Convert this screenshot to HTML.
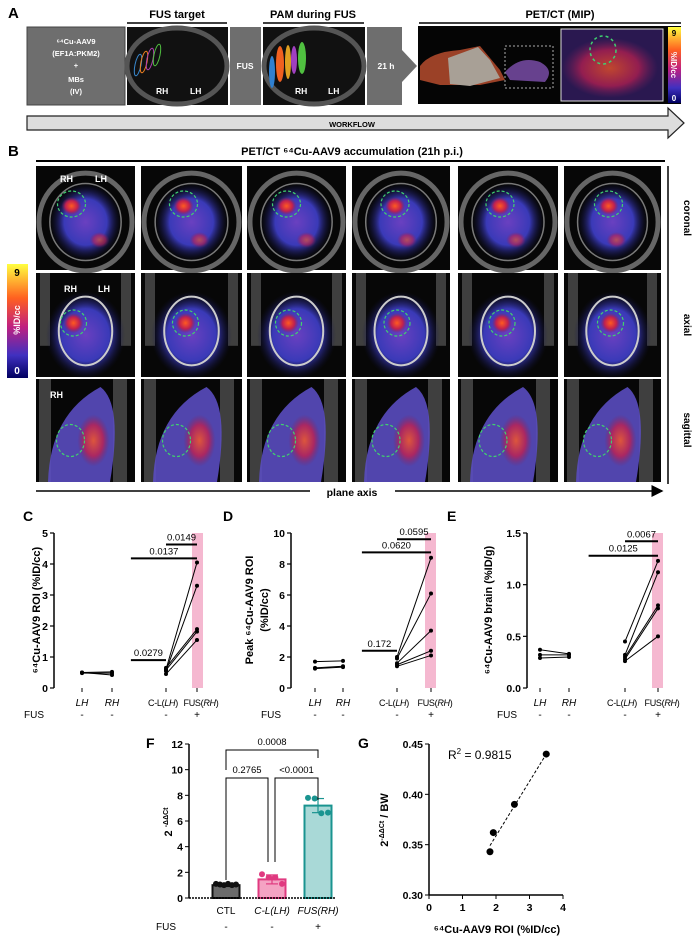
<!DOCTYPE html>
<html><head><meta charset="utf-8"><style>
body{margin:0;background:#fff}
svg{display:block;font-family:"Liberation Sans",Arial,sans-serif}
</style></head><body>
<svg id="s" width="699" height="942" viewBox="0 0 699 942">
<defs>
<radialGradient id="blob" cx="50%" cy="50%" r="50%"><stop offset="0" stop-color="#6a40c0"/><stop offset="0.6" stop-color="#3a3ab8"/><stop offset="1" stop-color="#101040" stop-opacity="0"/></radialGradient>
<radialGradient id="hot" cx="50%" cy="50%" r="50%"><stop offset="0" stop-color="#ff5a20"/><stop offset="0.6" stop-color="#c02050"/><stop offset="1" stop-color="#802060" stop-opacity="0"/></radialGradient>
<linearGradient id="cbar" x1="0" y1="0" x2="0" y2="1"><stop offset="0" stop-color="#ffff40"/><stop offset="0.3" stop-color="#ff6020"/><stop offset="0.55" stop-color="#c02080"/><stop offset="0.8" stop-color="#4030c0"/><stop offset="1" stop-color="#000060"/></linearGradient>
<marker id="ah" markerWidth="8" markerHeight="8" refX="7" refY="4" orient="auto"><path d="M0,0 L8,4 L0,8 z" fill="#000"/></marker>
</defs>

<!-- Panel A -->
<g>
<text x="8" y="18" font-size="15" font-weight="bold">A</text>
<text x="177" y="18" font-size="11" font-weight="bold" text-anchor="middle">FUS target</text>
<line x1="127" y1="23" x2="227" y2="23" stroke="#000" stroke-width="1.5"/>
<text x="313" y="18" font-size="11" font-weight="bold" text-anchor="middle">PAM during FUS</text>
<line x1="263" y1="23" x2="364" y2="23" stroke="#000" stroke-width="1.5"/>
<text x="560" y="18" font-size="11" font-weight="bold" text-anchor="middle">PET/CT (MIP)</text>
<line x1="419" y1="23" x2="681" y2="23" stroke="#000" stroke-width="1.5"/>
<rect x="27" y="27" width="98" height="78" fill="#6e6e6e" stroke="#444"/>
<g fill="#fff" font-size="7.5" font-weight="bold" text-anchor="middle">
<text x="76" y="44">⁶⁴Cu-AAV9</text><text x="76" y="56">(EF1A:PKM2)</text><text x="76" y="68">+</text><text x="76" y="82">MBs</text><text x="76" y="94">(IV)</text></g>
<rect x="127" y="27" width="101" height="78" fill="#111"/>
<ellipse cx="177" cy="66" rx="50" ry="38" fill="none" stroke="#555" stroke-width="5"/>
<ellipse cx="138" cy="65" rx="3" ry="11" fill="none" stroke="#3a8ad0" transform="rotate(12 138 65)"/>
<ellipse cx="144" cy="62" rx="3" ry="11" fill="none" stroke="#f08020" transform="rotate(12 144 62)"/>
<ellipse cx="150" cy="59" rx="3" ry="11" fill="none" stroke="#b040b0" transform="rotate(12 150 59)"/>
<ellipse cx="157" cy="55" rx="3" ry="11" fill="none" stroke="#50c040" transform="rotate(12 157 55)"/>
<text x="156" y="94" fill="#fff" font-size="8.5" font-weight="bold">RH</text><text x="190" y="94" fill="#fff" font-size="8.5" font-weight="bold">LH</text>
<rect x="230" y="27" width="31" height="78" fill="#6e6e6e"/>
<text x="245" y="69" fill="#fff" font-size="8.5" font-weight="bold" text-anchor="middle">FUS</text>
<rect x="263" y="27" width="102" height="78" fill="#111"/>
<ellipse cx="314" cy="66" rx="50" ry="38" fill="none" stroke="#555" stroke-width="5"/>
<ellipse cx="272" cy="72" rx="3" ry="16" fill="#3080d0"/><ellipse cx="280" cy="64" rx="4" ry="18" fill="#f06020"/>
<ellipse cx="288" cy="62" rx="3" ry="17" fill="#e0a020"/><ellipse cx="294" cy="60" rx="3" ry="14" fill="#a040c0"/><ellipse cx="302" cy="58" rx="4" ry="16" fill="#50c040"/>
<text x="295" y="94" fill="#fff" font-size="8.5" font-weight="bold">RH</text><text x="328" y="94" fill="#fff" font-size="8.5" font-weight="bold">LH</text>
<path d="M367,27 H402 V50 L417,66 L402,82 V105 H367 Z" fill="#6e6e6e"/>
<text x="386" y="69" fill="#fff" font-size="8.5" font-weight="bold" text-anchor="middle">21 h</text>
<rect x="418" y="26" width="263" height="78" fill="#050505"/>
<path d="M420,66 Q430,52 460,50 L480,46 L500,70 L505,80 L480,85 L440,85 L420,80 Z" fill="#c05030" opacity="0.8"/>
<path d="M448,58 L478,47 L490,60 L500,78 L470,86 L450,84 Z" fill="#a8a096"/>
<path d="M505,72 Q520,55 540,62 Q555,70 545,82 L510,80 Z" fill="#8050b0" opacity="0.8"/>
<rect x="505" y="46" width="48" height="42" fill="none" stroke="#aaa" stroke-dasharray="2,2"/>
<rect x="561" y="29" width="102" height="72" fill="#2a1850" stroke="#ddd"/>
<ellipse cx="610" cy="68" rx="48" ry="30" fill="url(#hot)" opacity="0.7"/>
<ellipse cx="603" cy="50" rx="13" ry="14" fill="none" stroke="#40d070" stroke-dasharray="3,3" stroke-width="1.5"/>
<rect x="668" y="27" width="13" height="76" fill="url(#cbar)"/>
<text x="674" y="36" font-size="8" font-weight="bold" text-anchor="middle">9</text>
<text x="674" y="101" font-size="8" font-weight="bold" fill="#fff" text-anchor="middle">0</text>
<text transform="translate(671,65) rotate(90)" font-size="8" font-weight="bold" fill="#fff" text-anchor="middle">%ID/cc</text>
<path d="M27,116 H668 V108 L684,123 L668,138 V130 H27 Z" fill="#ddd" stroke="#222" stroke-width="1.2"/>
<text x="352" y="127" font-size="7.5" font-weight="bold" text-anchor="middle">WORKFLOW</text>
</g>

<!-- Panel B -->
<g id="pb">
<text x="8" y="156" font-size="15" font-weight="bold">B</text>
<text x="352" y="155" font-size="11" font-weight="bold" text-anchor="middle">PET/CT ⁶⁴Cu-AAV9 accumulation (21h p.i.)</text>
<line x1="36" y1="161" x2="665" y2="161" stroke="#000" stroke-width="2"/>
<line x1="668" y1="166" x2="668" y2="484" stroke="#000" stroke-width="1.5"/>
<text transform="translate(684,218) rotate(90)" font-size="10" font-weight="bold" text-anchor="middle">coronal</text>
<text transform="translate(684,325) rotate(90)" font-size="10" font-weight="bold" text-anchor="middle">axial</text>
<text transform="translate(684,430) rotate(90)" font-size="10" font-weight="bold" text-anchor="middle">sagittal</text>
<rect x="7" y="264" width="21" height="114" fill="url(#cbar)"/>
<text x="17" y="276" font-size="10" font-weight="bold" text-anchor="middle">9</text>
<text x="17" y="374" font-size="10" font-weight="bold" fill="#fff" text-anchor="middle">0</text>
<text transform="translate(20,320) rotate(-90)" font-size="9" font-weight="bold" fill="#fff" text-anchor="middle">%ID/cc</text>
<line x1="36" y1="491" x2="310" y2="491" stroke="#000" stroke-width="1.5"/>
<line x1="395" y1="491" x2="662" y2="491" stroke="#000" stroke-width="1.5" marker-end="url(#ah)"/>
<text x="352" y="496" font-size="10.5" font-weight="bold" text-anchor="middle">plane axis</text>
</g>

<g id="charts"></g>
</svg>
<script>
const NS="http://www.w3.org/2000/svg";
const svg=document.getElementById('s');
function mk(tag,attrs,parent,txt){const e=document.createElementNS(NS,tag);for(const k in attrs)e.setAttribute(k,attrs[k]);if(txt!==undefined)e.textContent=txt;(parent||svg).appendChild(e);return e;}

// Panel B image grid
const pb=document.getElementById('pb');
const colX=[36,141,247,352,458,564];const colW=[99,101,99,98,100,97];
const rowYs=[166,273,379],rowHs=[104,104,103];
const hotX=[-14,-8,-10,-6,-8,-4];
for(let r=0;r<3;r++)for(let c=0;c<6;c++){
 const x=colX[c],y=rowYs[r],w=colW[c],h=rowHs[r],cx=x+w/2,cy=y+h/2;
 const g=mk('g',{},pb);
 
 
 mk('rect',{x:x,y:y,width:w,height:h,fill:'#070707'},g);
 if(r===0){
  mk('ellipse',{cx:cx,cy:cy+4,rx:w*0.47,ry:h*0.47,fill:'none',stroke:'#666',"stroke-width":5},g);
  mk('ellipse',{cx:cx,cy:cy+4,rx:w*0.36,ry:h*0.37,fill:'url(#blob)'},g);
  mk('ellipse',{cx:cx,cy:cy+4,rx:w*0.36,ry:h*0.37,fill:'none',stroke:'#aaa',"stroke-width":1.5,opacity:0.7},g);
  mk('ellipse',{cx:cx+hotX[c],cy:cy-12,rx:10,ry:9,fill:'url(#hot)'},g);
  mk('ellipse',{cx:cx-hotX[c],cy:cy+22,rx:10,ry:8,fill:'url(#hot)',opacity:0.6},g);
  mk('ellipse',{cx:cx+hotX[c],cy:cy-14,rx:14,ry:13,fill:'none',stroke:'#40d070',"stroke-dasharray":'3,2',"stroke-width":1.2},g);
 }else if(r===1){
  mk('rect',{x:x+4,y:y,width:10,height:h*0.7,fill:'#777',opacity:0.5},g);
  mk('rect',{x:x+w-14,y:y,width:10,height:h*0.7,fill:'#777',opacity:0.5},g);
  mk('ellipse',{cx:cx,cy:cy+10,rx:w*0.4,ry:h*0.42,fill:'url(#blob)'},g);
  mk('ellipse',{cx:cx,cy:cy+6,rx:w*0.27,ry:h*0.33,fill:'none',stroke:'#ccc',"stroke-width":2},g);
  mk('ellipse',{cx:cx+hotX[c]+2,cy:cy-2,rx:10,ry:10,fill:'url(#hot)'},g);
  mk('ellipse',{cx:cx+hotX[c]+2,cy:cy-2,rx:13,ry:13,fill:'none',stroke:'#40d070',"stroke-dasharray":'3,2',"stroke-width":1.2},g);
 }else{
  mk('rect',{x:x+3,y:y,width:12,height:h,fill:'#777',opacity:0.5},g);
  mk('rect',{x:x+w-22,y:y,width:14,height:h,fill:'#777',opacity:0.5},g);
  mk('path',{d:`M${x+12},${y+h} Q${x+14},${y+35} ${cx+15},${y+8} Q${x+w-12},${y+25} ${x+w-25},${y+h} Z`,fill:'#5a4cc0',opacity:0.9},g);
  mk('ellipse',{cx:cx+8,cy:cy+10,rx:16,ry:26,fill:'url(#hot)',opacity:0.8},g);
  mk('ellipse',{cx:cx-15,cy:cy+10,rx:14,ry:16,fill:'none',stroke:'#40d070',"stroke-dasharray":'3,2',"stroke-width":1.2},g);
 }
}
const lbl=[[60,182,'RH'],[95,182,'LH'],[64,292,'RH'],[98,292,'LH'],[50,398,'RH']];
lbl.forEach(l=>mk('text',{x:l[0],y:l[1],fill:'#fff',"font-size":9,"font-weight":'bold'},pb,l[2]));

const ch=document.getElementById('charts');

// ---------- C/D/E data ----------
const cats=['LH','RH','C-L(LH)','FUS(RH)'];
const fusRow=['-','-','-','+'];
const cLH=[0.50,0.50,0.48],cRH=[0.52,0.42,0.48];
const cCL=[0.60,0.55,0.65,0.58,0.45],cFUS=[4.05,3.30,1.90,1.82,1.55];
const dLH=[1.70,1.30,1.25],dRH=[1.75,1.40,1.35];
const dCL=[2.00,1.90,1.60,1.50,1.40],dFUS=[8.40,6.10,3.70,2.40,2.10];
const eLH=[0.37,0.32,0.29],eRH=[0.33,0.32,0.30];
const eCL=[0.45,0.32,0.30,0.28,0.26],eFUS=[1.23,1.12,0.80,0.77,0.50];
const cTicks=[0,1,2,3,4,5],dTicks=[0,2,4,6,8,10],eTicks=['0.0','0.5','1.0','1.5'];
const cBr=[[0.9,1.35,2,'0.0279'],[4.18,1.35,3,'0.0137'],[4.63,2,3,'0.0149']];
const dBr=[[2.4,1.35,2,'0.172'],[8.75,1.35,3,'0.0620'],[9.6,2,3,'0.0595']];
const eBr=[[1.28,1.35,3,'0.0125'],[1.42,2,3,'0.0067']];

function pairedPanel(name,ax,catX,ymax,ticks,L,R,CL,FU,br,pink,title){
 const g=mk('g',{},ch);
 
 
 const y0=688,y1=533;
 const ys=v=>y0-(v/ymax)*(y0-y1);
 const xs=i=>{const f=Math.floor(i),t=i-f;return f>=3?catX[3]:catX[f]+(catX[f+1]-catX[f])*t;};
 mk('rect',{x:pink[0],y:y1,width:pink[1]-pink[0],height:y0-y1,fill:'#f5b8d0'},g);
 mk('line',{x1:ax,y1:y1,x2:ax,y2:y0,stroke:'#000',"stroke-width":1.5},g);
 ticks.forEach(t=>{const v=parseFloat(t),y=ys(v);mk('line',{x1:ax-4,y1:y,x2:ax,y2:y,stroke:'#000',"stroke-width":1.2},g);
  mk('text',{x:ax-6,y:y+4,"font-size":10.5,"font-weight":'bold',"text-anchor":'end'},g,t);});
 cats.forEach((c,i)=>{mk('line',{x1:catX[i],y1:y0,x2:catX[i],y2:y0+4,stroke:'#000'},g);
  const t=mk('text',{x:catX[i]+(i===2?-3:i===3?4:0),y:706,"font-size":i<2?10:9,"letter-spacing":i<2?0:-0.3,"text-anchor":'middle'},g);
  if(i<2){t.setAttribute('font-style','italic');t.textContent=c;}
  else{const p=c.split('(');t.appendChild(document.createTextNode(p[0]+'('));
   mk('tspan',{"font-style":'italic'},t,p[1].replace(')',''));t.appendChild(document.createTextNode(')'));}
  mk('text',{x:catX[i],y:718,"font-size":10,"text-anchor":'middle'},g,fusRow[i]);});
 mk('text',{x:ax-30,y:718,"font-size":10},g,'FUS');
 const pair=(A,B,xa,xb)=>A.forEach((a,k)=>{mk('line',{x1:xa,y1:ys(a),x2:xb,y2:ys(B[k]),stroke:'#000',"stroke-width":1},g);
  mk('circle',{cx:xa,cy:ys(a),r:2,fill:'#000'},g);mk('circle',{cx:xb,cy:ys(B[k]),r:2,fill:'#000'},g);});
 pair(L,R,catX[0],catX[1]);pair(CL,FU,catX[2],catX[3]);
 br.forEach(b=>{const y=ys(b[0]);mk('line',{x1:xs(b[1]),y1:y,x2:xs(b[2]),y2:y,stroke:'#000',"stroke-width":2},g);
  mk('text',{x:(xs(b[1])+xs(b[2]))/2,y:y-4,"font-size":9.5,"text-anchor":'middle'},g,b[3]);});
 title(g);
}
pairedPanel('chart-c',54,[82,112,166,197],5,cTicks.map(String),cLH,cRH,cCL,cFUS,cBr,[192,203],g=>{
 mk('text',{x:23,y:521,"font-size":14,"font-weight":'bold'},g,'C');
 mk('text',{transform:'translate(40,610) rotate(-90)',"font-size":11,"font-weight":'bold',"text-anchor":'middle'},g,'⁶⁴Cu-AAV9 ROI (%ID/cc)');});
pairedPanel('chart-d',291,[315,343,397,431],10,dTicks.map(String),dLH,dRH,dCL,dFUS,dBr,[425,436],g=>{
 mk('text',{x:223,y:521,"font-size":14,"font-weight":'bold'},g,'D');
 mk('text',{transform:'translate(253,610) rotate(-90)',"font-size":11,"font-weight":'bold',"text-anchor":'middle'},g,'Peak ⁶⁴Cu-AAV9 ROI');
 mk('text',{transform:'translate(268,610) rotate(-90)',"font-size":11,"font-weight":'bold',"text-anchor":'middle'},g,'(%ID/cc)');});
pairedPanel('chart-e',527,[540,569,625,658],1.5,eTicks,eLH,eRH,eCL,eFUS,eBr,[652,663],g=>{
 mk('text',{x:447,y:521,"font-size":14,"font-weight":'bold'},g,'E');
 mk('text',{transform:'translate(492,610) rotate(-90)',"font-size":11,"font-weight":'bold',"text-anchor":'middle'},g,'⁶⁴Cu-AAV9 brain (%ID/g)');});

// ---------- F ----------
const fCats=['CTL','C-L(LH)','FUS(RH)'];
const fMeans=[1.0,1.45,7.2];
const fSD=[0.1,0.35,0.55];
const fPts=[[1.1,1.05,1.0,1.1,1.0,1.05],[1.85,1.6,1.6,1.1],[7.8,7.75,6.6,6.65]];
const fTicks=[0,2,4,6,8,10,12];
const fFill=['#6b6b6b','#f4a3c3','#a9d9d7'],fStroke=['#111','#e03a80','#1a9490'];
{
 const g=mk('g',{},ch);
 
 
 const ax=189,y0=898,ys=v=>y0-v*(y0-744)/12,xc=[226,272,318],bw=27;
 mk('text',{x:146,y:748,"font-size":14,"font-weight":'bold'},g,'F');
 mk('line',{x1:ax,y1:744,x2:ax,y2:y0,stroke:'#000',"stroke-width":1.5},g);
 fTicks.forEach(t=>{const y=ys(t);mk('line',{x1:ax-4,y1:y,x2:ax,y2:y,stroke:'#000'},g);mk('text',{x:ax-6,y:y+4,"font-size":10.5,"font-weight":'bold',"text-anchor":'end'},g,t);});
 fMeans.forEach((m,i)=>{const b=mk('rect',{x:xc[i]-bw/2,y:ys(m),width:bw,height:y0-ys(m),fill:fFill[i],stroke:fStroke[i],"stroke-width":2},g);
  
  
  mk('line',{x1:xc[i],y1:ys(m+fSD[i]),x2:xc[i],y2:ys(m-fSD[i]),stroke:fStroke[i],"stroke-width":1.2},g);
  mk('line',{x1:xc[i]-6,y1:ys(m+fSD[i]),x2:xc[i]+6,y2:ys(m+fSD[i]),stroke:fStroke[i],"stroke-width":1.2},g);
  mk('line',{x1:xc[i]-6,y1:ys(m-fSD[i]),x2:xc[i]+6,y2:ys(m-fSD[i]),stroke:fStroke[i],"stroke-width":1.2},g);
  const n=fPts[i].length;fPts[i].forEach((p,k)=>mk('circle',{cx:xc[i]-10+20*k/(n-1),cy:ys(p),r:3,fill:fStroke[i]},g));
  mk('text',{x:xc[i],y:914,"font-size":10,"text-anchor":'middle',"font-style":i?'italic':'normal'},g,fCats[i]);
  mk('text',{x:xc[i],y:930,"font-size":10,"text-anchor":'middle'},g,['-','-','+'][i]);});
 mk('line',{x1:ax,y1:y0,x2:336,y2:y0,stroke:'#000',"stroke-width":1.5,"stroke-dasharray":'2,1'},g);
 mk('text',{x:156,y:930,"font-size":10},g,'FUS');
 const br=(xa,xb,yt,ya,yb,lab)=>{mk('path',{d:`M${xa},${ya} V${yt} H${xb} V${yb}`,fill:'none',stroke:'#000',"stroke-width":1},g);mk('text',{x:(xa+xb)/2,y:yt-5,"font-size":9.5,"text-anchor":'middle'},g,lab);};
 br(226,318,750,770,758,'0.0008');br(226,268,778,880,862,'0.2765');br(275,318,778,862,800,'<0.0001');
 const yt=mk('text',{transform:'translate(172,822) rotate(-90)',"font-size":11,"font-weight":'bold',"text-anchor":'middle'},g,'2 ');
 mk('tspan',{dy:-4,"font-size":7},yt,'-ΔΔCt');
}

// ---------- G ----------
const gX=[1.82,1.92,2.55,3.50];
const gY=[0.343,0.362,0.390,0.440];
const gXTicks=[0,1,2,3,4],gYTicks=['0.30','0.35','0.40','0.45'];
const gFit=[[1.82,0.349],[3.50,0.440]];
{
 const g=mk('g',{},ch);
 
 
 const xs=v=>429+v*33.5,ys=v=>895-(v-0.30)/0.15*151;
 mk('text',{x:358,y:748,"font-size":14,"font-weight":'bold'},g,'G');
 mk('line',{x1:429,y1:744,x2:429,y2:895,stroke:'#000',"stroke-width":1.5},g);
 mk('line',{x1:429,y1:895,x2:563,y2:895,stroke:'#000',"stroke-width":1.5},g);
 gYTicks.forEach(t=>{const y=ys(parseFloat(t));mk('line',{x1:425,y1:y,x2:429,y2:y,stroke:'#000'},g);mk('text',{x:423,y:y+4,"font-size":10.5,"font-weight":'bold',"text-anchor":'end'},g,t);});
 gXTicks.forEach(t=>{const x=xs(t);mk('line',{x1:x,y1:895,x2:x,y2:899,stroke:'#000'},g);mk('text',{x:x,y:911,"font-size":10.5,"font-weight":'bold',"text-anchor":'middle'},g,t);});
 mk('line',{x1:xs(gFit[0][0]),y1:ys(gFit[0][1]),x2:xs(gFit[1][0]),y2:ys(gFit[1][1]),stroke:'#000',"stroke-dasharray":'3,2'},g);
 gX.forEach((x,i)=>mk('circle',{cx:xs(x),cy:ys(gY[i]),r:3.5,fill:'#000'},g));
 const r=mk('text',{x:448,y:759,"font-size":12},g,'R');mk('tspan',{dy:-5,"font-size":8},r,'2');mk('tspan',{dy:5},r,' = 0.9815');
 const yt=mk('text',{transform:'translate(388,820) rotate(-90)',"font-size":11,"font-weight":'bold',"text-anchor":'middle'},g,'2');
 mk('tspan',{dy:-4,"font-size":7},yt,'-ΔΔCt');mk('tspan',{dy:4},yt,' / BW');
 mk('text',{x:497,y:933,"font-size":11,"font-weight":'bold',"text-anchor":'middle'},g,'⁶⁴Cu-AAV9 ROI (%ID/cc)');
}
</script>
</body></html>
